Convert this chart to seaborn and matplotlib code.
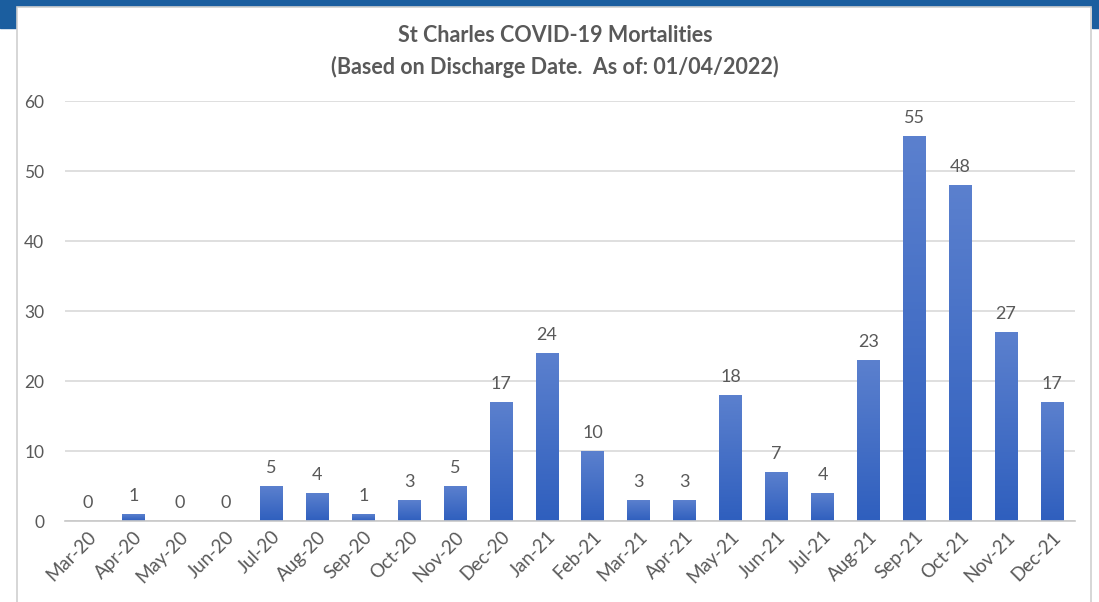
import matplotlib
matplotlib.use("Agg")
import matplotlib.pyplot as plt
import numpy as np
import pandas as pd
import seaborn as sns
from matplotlib.colors import LinearSegmentedColormap
from matplotlib.patches import Rectangle

months = ["Mar-20", "Apr-20", "May-20", "Jun-20", "Jul-20", "Aug-20", "Sep-20",
          "Oct-20", "Nov-20", "Dec-20", "Jan-21", "Feb-21", "Mar-21", "Apr-21",
          "May-21", "Jun-21", "Jul-21", "Aug-21", "Sep-21", "Oct-21", "Nov-21",
          "Dec-21"]
deaths = [0, 1, 0, 0, 5, 4, 1, 3, 5, 17, 24, 10, 3, 3, 18, 7, 4, 23, 55, 48, 27, 17]
y_ticks = [0, 10, 20, 30, 40, 50, 60]

title_line1 = "St Charles COVID-19 Mortalities"
title_line2 = "(Based on Discharge Date.  As of: 01/04/2022)"

TEXT = "#595959"
GRID = "#D9D9D9"
BAND = "#1B5E9F"

sns.set_theme(style="white")
plt.rcParams["font.family"] = ["Lato", "DejaVu Sans"]

df = pd.DataFrame({"month": months, "deaths": deaths})

fig = plt.figure(figsize=(10.99, 6.02), dpi=100)
fig.patch.set_facecolor("white")

# blue page header behind the chart panel
fig.patches.append(Rectangle((0, 1 - 7 / 602), 1, 7 / 602, transform=fig.transFigure,
                             color=BAND, zorder=-3))
fig.patches.append(Rectangle((0, 1 - 28 / 602), 17 / 1099, 28 / 602,
                             transform=fig.transFigure, color=BAND, zorder=-3))
fig.patches.append(Rectangle((1092 / 1099, 1 - 28 / 602), 7 / 1099, 28 / 602,
                             transform=fig.transFigure, color=BAND, zorder=-3))
# chart panel border
fig.patches.append(Rectangle((17 / 1099, -0.01), 1074 / 1099, 1 - 7 / 602 + 0.01,
                             transform=fig.transFigure, facecolor="white",
                             edgecolor="#D0D0D0", linewidth=1.2, zorder=-2))

ax = fig.add_axes([65 / 1099, 81 / 602, 1010 / 1099, 420 / 602])
ax.set_facecolor("none")

sns.barplot(data=df, x="month", y="deaths", color="#4472C4", width=0.5,
            saturation=1, ax=ax, zorder=3)

# vertical gradient fill on each bar
grad = LinearSegmentedColormap.from_list("g", ["#2F5FBE", "#5B80CE"])
ramp = np.linspace(0, 1, 100).reshape(-1, 1)
for patch in ax.patches:
    x0, w, h = patch.get_x(), patch.get_width(), patch.get_height()
    if h <= 0:
        continue
    patch.set_facecolor("none")
    patch.set_edgecolor("none")
    im = ax.imshow(ramp, cmap=grad, origin="lower", aspect="auto",
                   extent=[x0, x0 + w, 0, h], zorder=3)
    im.set_clip_path(patch)

ax.bar_label(ax.containers[0], labels=[str(v) for v in deaths], padding=7,
             fontsize=13, color=TEXT)

ax.set_xlim(-0.5, len(months) - 0.5)
ax.set_ylim(0, 60)
ax.set_yticks(y_ticks)
ax.yaxis.grid(True, color=GRID, linewidth=1.2, zorder=0)
ax.set_axisbelow(True)
for side in ["left", "right", "top"]:
    ax.spines[side].set_visible(False)
ax.spines["bottom"].set_color("#C8C8C8")
ax.spines["bottom"].set_linewidth(1.2)
ax.spines["bottom"].set_zorder(4)

ax.set_xlabel("")
ax.set_ylabel("")
ax.tick_params(axis="both", length=0, labelcolor=TEXT)
ax.tick_params(axis="y", pad=15, labelsize=12.5)
ax.tick_params(axis="x", pad=5, labelsize=13.5)
plt.setp(ax.get_xticklabels(), rotation=45, ha="right", rotation_mode="anchor")

fig.text(0.505, 1 - 35 / 602, title_line1, ha="center", va="center",
         fontsize=15.5, fontweight="bold", color=TEXT)
fig.text(0.505, 1 - 67 / 602, title_line2, ha="center", va="center",
         fontsize=15.5, fontweight="bold", color=TEXT)

fig.savefig("out.png", dpi=100, facecolor=fig.get_facecolor())
